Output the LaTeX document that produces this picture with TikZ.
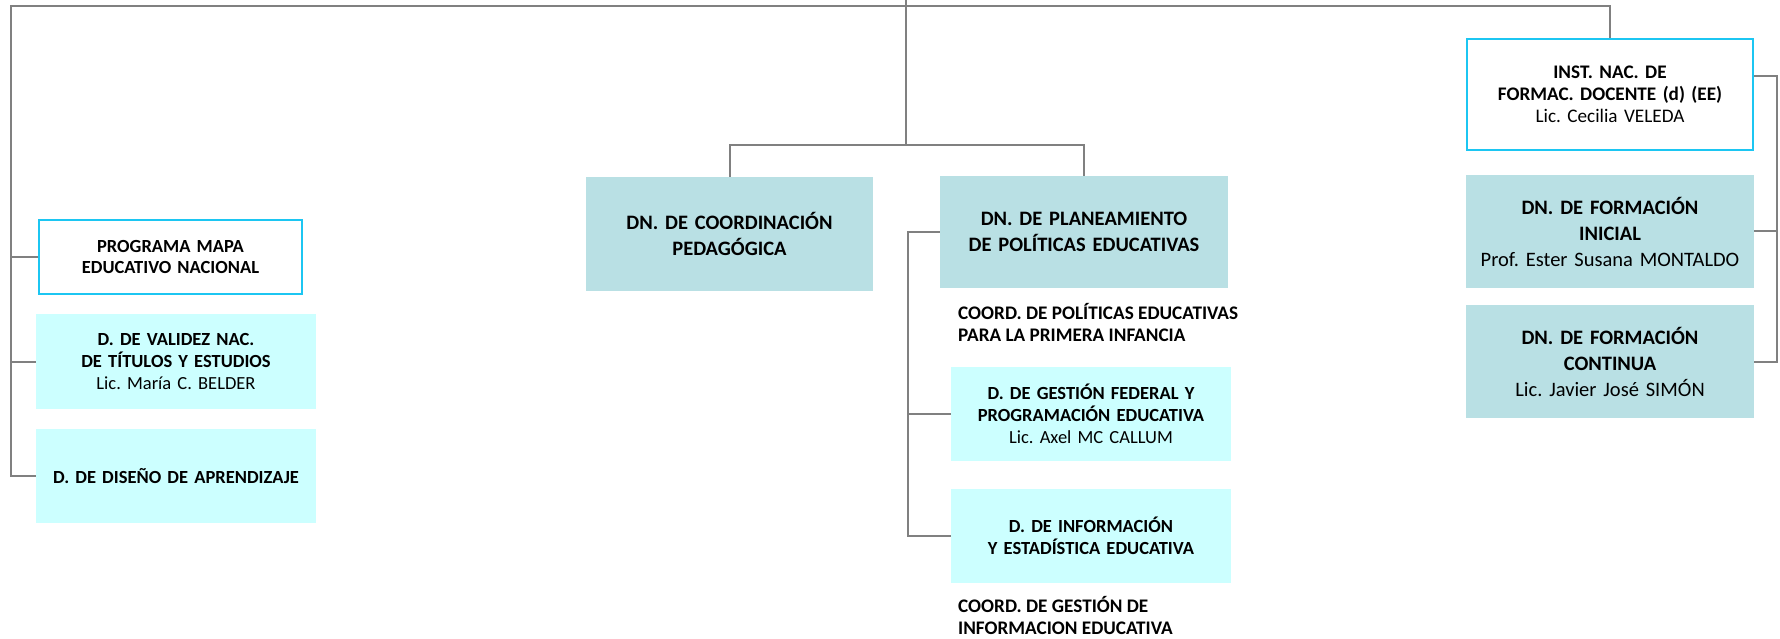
\documentclass[tikz,border=0pt]{standalone}
\usepackage{fontspec}
\setmainfont{Carlito}
\frenchspacing
\definecolor{dnFill}{RGB}{185,224,228}
\definecolor{dFill}{RGB}{204,255,255}
\definecolor{instLine}{RGB}{28,198,242}
\definecolor{linkGrey}{RGB}{128,128,128}
\newcommand{\smallText}{\fontsize{18.5}{21.7}\selectfont}
\newcommand{\noteText}{\fontsize{19.2}{22}\selectfont}
\newcommand{\largeText}{\fontsize{20.5}{26}\selectfont}

\begin{document}
\begin{tikzpicture}[%%
  x=1pt,y=-1pt,%%
  boxStyle/.style={inner sep=0pt,align=center,font=\bfseries\smallText},%%
  dnStyle/.style={boxStyle,fill=dnFill,text width=288pt,minimum height=113pt,font=\bfseries\largeText},%%
  dStyle/.style={boxStyle,fill=dFill,text width=280pt,minimum height=94pt},%%
  instStyle/.style={boxStyle,draw=instLine,line width=2pt,fill=white},%%
  noteStyle/.style={inner sep=0pt,align=left,anchor=west,font=\bfseries\noteText},%%
  lineStyle/.style={-,draw=linkGrey,line width=2pt}%%
]
%%
%%
\useasboundingbox (0,0) rectangle (1780,639);
\pgfmathsetmacro{\leftBus}{11}   %% Left bracket.
\pgfmathsetmacro{\rightBus}{1777} %% Right bracket.
\pgfmathsetmacro{\topY}{6}
%%
%% Left column.
\node[instStyle,text width=263pt,minimum height=74pt] (mapa) at (170.5,257) {PROGRAMA MAPA\\EDUCATIVO NACIONAL};
\node[dStyle,minimum height=95pt] (validez) at (176,361.5) {D. DE VALIDEZ NAC.\\DE TÍTULOS Y ESTUDIOS\\\mdseries Lic. María C. BELDER};
\node[dStyle] (diseno) at (176,476) {D. DE DISEÑO DE APRENDIZAJE};
%%
%% Centre column.
\node[dnStyle,text width=287pt,minimum height=114pt] (coordPed) at (729.5,234) {DN. DE COORDINACIÓN\\PEDAGÓGICA};
\node[dnStyle,minimum height=112pt] (planeamiento) at (1084,232) {DN. DE PLANEAMIENTO\\DE POLÍTICAS EDUCATIVAS};
\node[noteStyle] (infancia) at (958,322.5) {COORD. DE POLÍTICAS EDUCATIVAS\\PARA LA PRIMERA INFANCIA};
\node[dStyle] (gestion) at (1091,414) {D. DE GESTIÓN FEDERAL Y\\PROGRAMACIÓN EDUCATIVA\\\mdseries Lic. Axel MC CALLUM};
\node[dStyle] (informacion) at (1091,536) {D. DE INFORMACIÓN\\Y ESTADÍSTICA EDUCATIVA};
\node[noteStyle] (gestionInfo) at (958,616) {COORD. DE GESTIÓN DE\\INFORMACION EDUCATIVA};
%%
%% Right column.
\node[instStyle,text width=286pt,minimum height=111pt,font=\bfseries\noteText] (instituto) at (1610,94.5) {INST. NAC. DE\\FORMAC. DOCENTE (d) (EE)\\\mdseries Lic. Cecilia VELEDA};
\node[dnStyle] (inicial) at (1610,231.5) {DN. DE FORMACIÓN\\INICIAL\\\mdseries Prof. Ester Susana MONTALDO};
\node[dnStyle] (continua) at (1610,361.5) {DN. DE FORMACIÓN\\CONTINUA\\\mdseries Lic. Javier José SIMÓN};
%%
%% Connectors.
\coordinate (topIn) at (906,0);
\coordinate (hub) at (906,145);
\coordinate (topLeft) at (\leftBus,\topY);
\coordinate (topRight) at (1610,\topY);
\coordinate (planBus) at (908,232);
\coordinate (instTick) at (\rightBus,76);
\draw[lineStyle] (mapa.west) -| (topLeft) -- (topRight) -- (instituto.north);
\draw[lineStyle] (topLeft) |- (validez.west);
\draw[lineStyle] (topLeft) |- (diseno.west);
\draw[lineStyle] (topIn) -- (hub) -| (coordPed.north);
\draw[lineStyle] (hub) -| (planeamiento.north);
\draw[lineStyle] (planeamiento.west) -- (planBus) |- (gestion.west);
\draw[lineStyle] (planBus) |- (informacion.west);
\draw[lineStyle] (instituto.east |- instTick) -- (instTick) |- (continua.east);
\draw[lineStyle] (instTick) |- (inicial.east);
\end{tikzpicture}
\end{document}
